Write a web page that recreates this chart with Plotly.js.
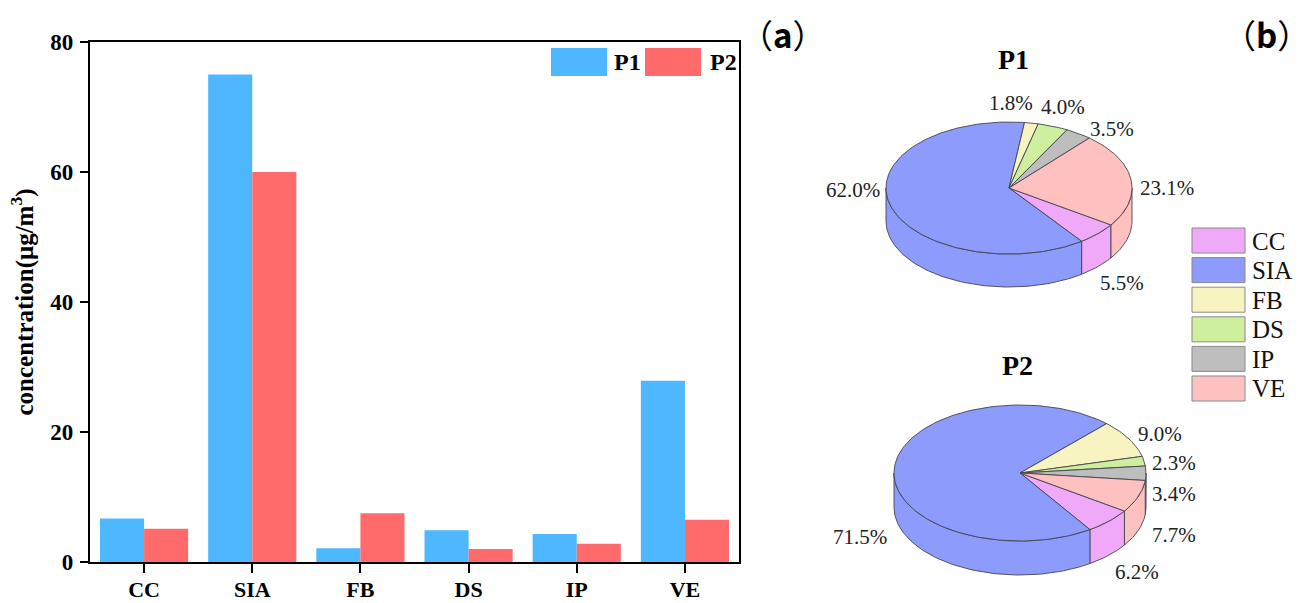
<!DOCTYPE html>
<html>
<head>
<meta charset="utf-8">
<script src="https://cdn.plot.ly/plotly-3.0.1.min.js"></script>
<style>html,body{margin:0;padding:0;background:#fff;}#chart{width:1309px;height:603px;}</style>
</head>
<body>
<div id="chart"></div>
<script>
// ---------- data ----------
const categories = ['CC', 'SIA', 'FB', 'DS', 'IP', 'VE'];
const seriesNames = ['P1', 'P2'];
const p1Conc = [6.7, 75.0, 2.1, 4.9, 4.3, 27.9];
const p2Conc = [5.1, 60.0, 7.5, 2.0, 2.8, 6.5];
const p1Share = [5.5, 62.0, 1.8, 4.0, 3.5, 23.1];
const p2Share = [6.2, 71.5, 9.0, 2.3, 3.4, 7.7];
const yTicks = [0, 20, 40, 60, 80];

// ---------- styles ----------
const W = 1309, H = 603;
const SERIF = 'Liberation Serif, Times New Roman, serif';
const barColors = ['#4DB8FF', '#FF6B6B'];
const sliceColors = ['#F0A8F8', '#8C9BFC', '#F8F4C2', '#CDEF9E', '#BEBEBE', '#FFC0C0'];
const edge = {color: '#44444f', width: 0.9};

// ---------- bar chart ----------
const traces = [
  {type: 'bar', name: seriesNames[0], x: categories, y: p1Conc, marker: {color: barColors[0]},
   xaxis: 'x', yaxis: 'y', showlegend: false},
  {type: 'bar', name: seriesNames[1], x: categories, y: p2Conc, marker: {color: barColors[1]},
   xaxis: 'x', yaxis: 'y', showlegend: false}
];

// ---------- 3D-looking pies (computed from the share arrays, drawn on a pixel-mapped axis) ----------
function arc(cx, cy, rx, ry, dy, a, b) {
  const xs = [], ys = [];
  const n = Math.max(2, Math.ceil(Math.abs(b - a) / 1.5));
  for (let i = 0; i <= n; i++) {
    const t = (a + (b - a) * i / n) * Math.PI / 180;
    xs.push(cx + rx * Math.cos(t));
    ys.push(cy - ry * Math.sin(t) + dy);
  }
  return [xs, ys];
}
function pieTraces(shares, g) {
  const total = shares.reduce((s, v) => s + v, 0);
  const sides = [], tops = [];
  let a0 = g.start;
  shares.forEach((v, i) => {
    const a1 = a0 - v / total * 360;
    const [ax, ay] = arc(g.cx, g.cy, g.rx, g.ry, 0, a0, a1);
    tops.push({type: 'scatter', mode: 'lines', fill: 'toself', fillcolor: sliceColors[i],
      x: [g.cx].concat(ax, [g.cx]), y: [g.cy].concat(ay, [g.cy]),
      line: edge, xaxis: 'x2', yaxis: 'y2', showlegend: false, hoverinfo: 'skip', name: categories[i]});
    [[-180, 0], [-540, -360]].forEach(([lo, hi]) => {
      const s = Math.max(a1, lo), e = Math.min(a0, hi);
      if (e > s) {
        const [tx, ty] = arc(g.cx, g.cy, g.rx, g.ry, 0, e, s);
        const [bx, by] = arc(g.cx, g.cy, g.rx, g.ry, g.h, s, e);
        sides.push({type: 'scatter', mode: 'lines', fill: 'toself', fillcolor: sliceColors[i],
          x: tx.concat(bx, [tx[0]]), y: ty.concat(by, [ty[0]]),
          line: edge, xaxis: 'x2', yaxis: 'y2', showlegend: false, hoverinfo: 'skip', name: categories[i]});
      }
    });
    a0 = a1;
  });
  return sides.concat(tops);
}
const pie1 = {cx: 1009, cy: 188, rx: 123, ry: 66, h: 33, start: -34};
const pie2 = {cx: 1020, cy: 473, rx: 126, ry: 68, h: 34, start: -34};
traces.push(...pieTraces(p1Share, pie1), ...pieTraces(p2Share, pie2));

// ---------- annotations & shapes ----------
const px = x => x / W, py = y => 1 - y / H;
const annotations = [];
const shapes = [];
function addText(text, x, y, font, xanchor) {
  annotations.push({text: text, xref: 'paper', yref: 'paper', x: px(x), y: py(y),
    xanchor: xanchor || 'center', yanchor: 'middle', showarrow: false, font: font});
}
// panel letters
const letterFont = {family: 'Noto Sans CJK SC', size: 33, color: '#000'};
addText('（<b>a</b>）', 783, 34, letterFont);
addText('（<b>b</b>）', 1266, 34, letterFont);
// bar legend
const barLegend = [{x0: 551, tx: 612}, {x0: 645, tx: 708}];
barLegend.forEach((b, i) => {
  shapes.push({type: 'rect', xref: 'paper', yref: 'paper', x0: px(b.x0), x1: px(b.x0 + 56),
    y0: py(48), y1: py(76), fillcolor: barColors[i], line: {width: 0}});
  addText('<b>' + seriesNames[i] + '</b>', b.tx, 62, {family: SERIF, size: 24, color: '#000'}, 'left');
});
// pie titles
addText('<b>P1</b>', 1013, 59, {family: SERIF, size: 28, color: '#000'});
addText('<b>P2</b>', 1018, 365, {family: SERIF, size: 28, color: '#000'});
// pie percentage labels (positions are layout, texts come from data)
const labelFont = {family: SERIF, size: 21, color: '#222'};
const p1LabelPos = [[1122, 283], [853, 190], [1011, 103], [1063, 107], [1112, 129], [1167, 188]];
const p2LabelPos = [[1137, 572], [860, 537], [1160, 434], [1174, 463], [1174, 494], [1174, 535]];
p1Share.forEach((v, i) => addText(v.toFixed(1) + '%', p1LabelPos[i][0], p1LabelPos[i][1], labelFont));
p2Share.forEach((v, i) => addText(v.toFixed(1) + '%', p2LabelPos[i][0], p2LabelPos[i][1], labelFont));
// pie legend
categories.forEach((c, i) => {
  const top = 228 + i * 29.6;
  shapes.push({type: 'rect', xref: 'paper', yref: 'paper', x0: px(1192), x1: px(1245),
    y0: py(top), y1: py(top + 25), fillcolor: sliceColors[i], line: {color: '#8a8a8a', width: 1}});
  addText(c, 1250, top + 13, {family: SERIF, size: 25, color: '#111'}, 'left');
});

const layout = {
  width: W, height: H,
  margin: {l: 0, r: 0, t: 0, b: 0},
  paper_bgcolor: '#fff', plot_bgcolor: 'rgba(0,0,0,0)',
  showlegend: false,
  bargap: 0.185, bargroupgap: 0, barmode: 'group',
  xaxis: {
    domain: [90 / W, 739 / W], anchor: 'y',
    showline: true, linecolor: '#000', linewidth: 2.2, mirror: true,
    ticks: 'outside', ticklen: 9, tickwidth: 2, tickcolor: '#000',
    ticklabelstandoff: -3,
    tickfont: {family: SERIF, size: 22, color: '#000', weight: 'bold'},
    showgrid: false, zeroline: false, fixedrange: true
  },
  yaxis: {
    domain: [1 - 562 / H, 1 - 42 / H], anchor: 'x',
    range: [0, 80], tickvals: yTicks, ticktext: yTicks.map(String),
    showline: true, linecolor: '#000', linewidth: 2.2, mirror: true,
    ticks: 'outside', ticklen: 8, tickwidth: 2, tickcolor: '#000',
    ticklabelstandoff: 2,
    tickfont: {family: SERIF, size: 23, color: '#000', weight: 'bold'},
    title: {text: '<b>concentration(μg/m<sup>3</sup>)</b>', standoff: 10,
            font: {family: SERIF, size: 25, color: '#000'}},
    showgrid: false, zeroline: false, fixedrange: true
  },
  xaxis2: {domain: [760 / W, 1], range: [760, W], anchor: 'y2', visible: false, fixedrange: true},
  yaxis2: {domain: [0, 1], range: [H, 0], anchor: 'x2', visible: false, fixedrange: true},
  annotations: annotations,
  shapes: shapes
};

Plotly.newPlot('chart', traces, layout, {staticPlot: true, displayModeBar: false});
</script>
</body>
</html>
